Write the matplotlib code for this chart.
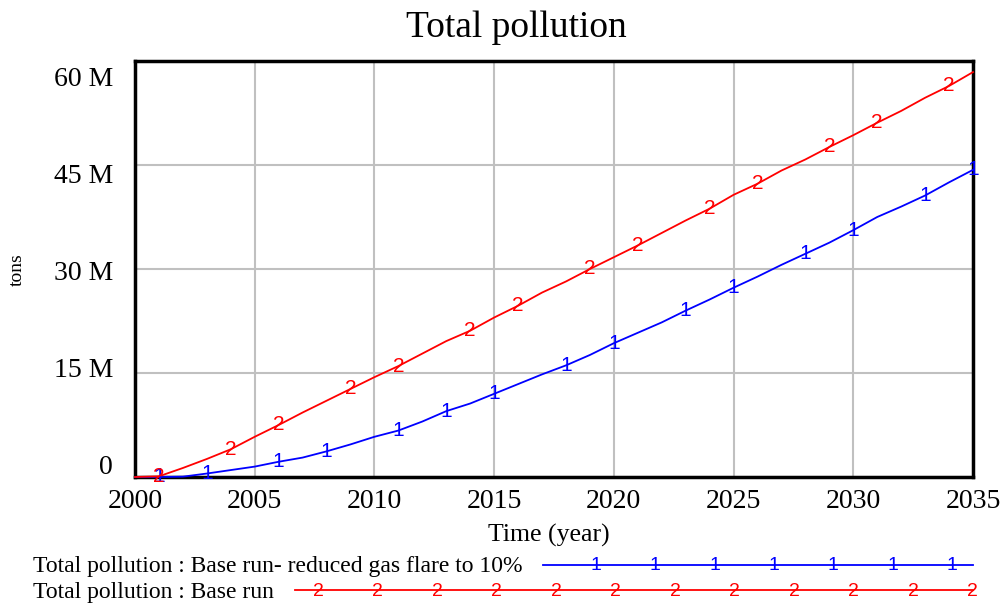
import matplotlib.pyplot as plt
import matplotlib.transforms as mtransforms

years = list(range(2000, 2036))

# Total pollution (million tons)
base_run = [0, 0.1, 1.3, 2.6, 4.0, 5.8, 7.5, 9.3, 11.0, 12.7,
            14.4, 16.0, 17.8, 19.6, 21.1, 23.0, 24.7, 26.6, 28.2, 30.0,
            31.7, 33.4, 35.2, 37.0, 38.7, 40.7, 42.3, 44.2, 45.8, 47.6,
            49.3, 51.1, 52.8, 54.7, 56.4, 58.4]
reduced_flare = [0, 0, 0.05, 0.5, 1.0, 1.5, 2.2, 2.8, 3.7, 4.7,
                 5.8, 6.7, 8.0, 9.5, 10.6, 12.0, 13.4, 14.8, 16.1, 17.6,
                 19.3, 20.8, 22.3, 24.0, 25.6, 27.3, 28.9, 30.6, 32.2, 33.8,
                 35.6, 37.5, 39.0, 40.6, 42.5, 44.3]

# years where the series number is written on the line
base_marks = [2001, 2004, 2006, 2009, 2011, 2014, 2016, 2019, 2021, 2024, 2026, 2029, 2031, 2034]
reduced_marks = [2001, 2003, 2006, 2008, 2011, 2013, 2015, 2018, 2020, 2023, 2025, 2028, 2030, 2033, 2035]

yticks = [0, 15, 30, 45, 60]
ytick_labels = ["0", "15 M", "30 M", "45 M", "60 M"]
xticks = [2000, 2005, 2010, 2015, 2020, 2025, 2030, 2035]

serif = "Liberation Serif"
sans = "Liberation Sans"

fig = plt.figure(figsize=(10.04, 6.03), dpi=100)
ax = fig.add_axes([135 / 1004, 1 - 477 / 603, 838 / 1004, 416 / 603])

ax.plot(years, reduced_flare, color="blue", linewidth=1.3, zorder=3, clip_on=False)
ax.plot(years, base_run, color="red", linewidth=1.3, zorder=3, clip_on=False)

for yr in reduced_marks:
    ax.text(yr, reduced_flare[years.index(yr)], "1", color="blue", fontsize=15,
            family=sans, ha="center", va="center", zorder=4, clip_on=False)
for yr in base_marks:
    ax.text(yr, base_run[years.index(yr)], "2", color="red", fontsize=15,
            family=sans, ha="center", va="center", zorder=4, clip_on=False)

ax.set_xlim(2000, 2035)
ax.set_ylim(0, 60)
ax.set_xticks(xticks)
ax.set_yticks(yticks)
ax.set_yticklabels([])
ax.tick_params(length=0)
ax.tick_params(axis="x", pad=9)
for lab in ax.get_xticklabels():
    lab.set_fontfamily(serif)
    lab.set_fontsize(20)
ax.grid(True, color="#c0c0c0", linewidth=1.5)
ax.set_axisbelow(True)
for sp in ax.spines.values():
    sp.set_linewidth(2.5)
    sp.set_color("black")

# y labels are spread evenly between the grid lines, like the original tool does
trans = mtransforms.blended_transform_factory(ax.transAxes, ax.transData)
label_pos = [0.43, 14.4, 28.4, 42.4, 56.4]
for pos, txt in zip(label_pos, ytick_labels):
    ax.text(-0.026, pos, txt, transform=trans, ha="right", va="baseline",
            fontsize=20, family=serif)

fig.text(516 / 1004, 1 - 37 / 603, "Total pollution", ha="center", va="baseline",
         fontsize=27, family=serif)
fig.text(549 / 1004, 1 - 542 / 603, "Time (year)", ha="center", va="baseline",
         fontsize=18.5, family=serif)
fig.text(17 / 1004, 1 - 270 / 603, "tons", ha="center", va="center",
         rotation=90, fontsize=14, family=serif)

# legend drawn underneath in pixel units
lg = fig.add_axes([0, 0, 1, 1], facecolor="none")
lg.set_xlim(0, 1004)
lg.set_ylim(603, 0)
lg.axis("off")
lg.text(33, 572, "Total pollution : Base run- reduced gas flare to 10%", ha="left",
        va="baseline", fontsize=17, family=serif)
lg.text(33, 598, "Total pollution : Base run", ha="left", va="baseline",
        fontsize=17, family=serif)
lg.plot([543, 973], [565, 565], color="blue", linewidth=1.3)
lg.plot([295, 973], [590, 590], color="red", linewidth=1.3)
for i in range(7):
    lg.text(596 + i * 59.3, 565, "1", color="blue", fontsize=14, family=sans,
            ha="center", va="center")
for i in range(12):
    lg.text(318 + i * 59.5, 591, "2", color="red", fontsize=14, family=sans,
            ha="center", va="center")

fig.savefig("out.png")
